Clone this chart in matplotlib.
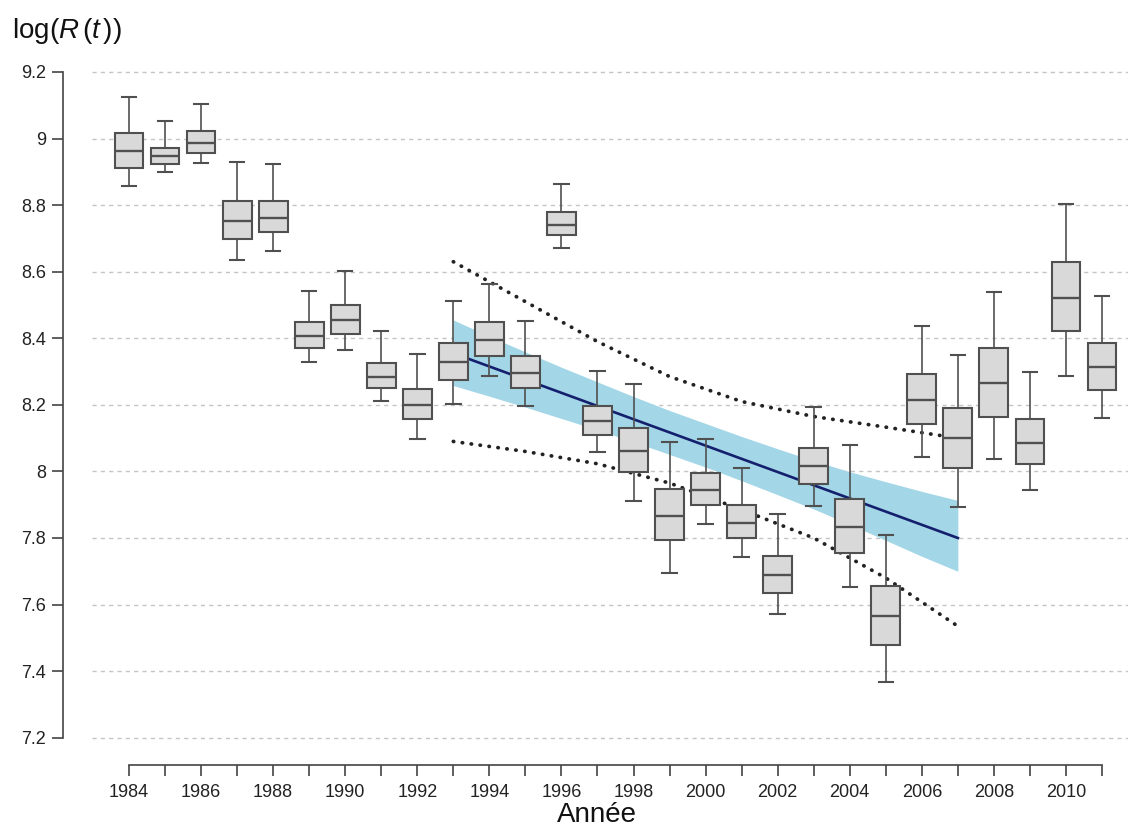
import matplotlib
matplotlib.use("Agg")
import matplotlib.pyplot as plt

plt.rcParams["font.family"] = ["Liberation Sans", "DejaVu Sans"]
plt.rcParams["mathtext.fontset"] = "custom"
plt.rcParams["mathtext.rm"] = "Liberation Sans"
plt.rcParams["mathtext.it"] = "Liberation Sans:italic"

# --- data ---
years = list(range(1984, 2012))
whis_lo = [8.857, 8.901, 8.927, 8.635, 8.663, 8.329, 8.366, 8.211, 8.098, 8.204,
           8.286, 8.198, 8.671, 8.057, 7.910, 7.696, 7.843, 7.742, 7.572, 7.897,
           7.652, 7.366, 8.043, 7.893, 8.037, 7.943, 8.288, 8.159]
q1 = [8.913, 8.925, 8.958, 8.699, 8.718, 8.370, 8.413, 8.250, 8.156, 8.275,
      8.346, 8.252, 8.710, 8.108, 7.999, 7.793, 7.899, 7.799, 7.635, 7.963,
      7.756, 7.480, 8.141, 8.009, 8.163, 8.023, 8.421, 8.246]
median = [8.963, 8.947, 8.987, 8.753, 8.761, 8.408, 8.455, 8.284, 8.199, 8.329,
          8.394, 8.296, 8.740, 8.150, 8.061, 7.866, 7.945, 7.845, 7.690, 8.015,
          7.832, 7.565, 8.216, 8.099, 8.266, 8.085, 8.521, 8.314]
q3 = [9.016, 8.973, 9.022, 8.811, 8.811, 8.450, 8.501, 8.325, 8.249, 8.387,
      8.450, 8.348, 8.780, 8.198, 8.129, 7.946, 7.995, 7.899, 7.747, 8.071,
      7.918, 7.655, 8.294, 8.192, 8.372, 8.157, 8.628, 8.387]
whis_hi = [9.126, 9.052, 9.104, 8.931, 8.924, 8.542, 8.602, 8.422, 8.354, 8.511,
           8.564, 8.452, 8.865, 8.303, 8.263, 8.088, 8.098, 8.011, 7.873, 8.193,
           8.079, 7.808, 8.438, 8.351, 8.539, 8.298, 8.804, 8.528]

# linear trend 1993-2007 with confidence band
trend_years = [1993, 2007]
trend_vals = [8.355, 7.800]
band_years = list(range(1993, 2008))
band_hi = [8.455, 8.406, 8.359, 8.313, 8.269, 8.225, 8.183, 8.144, 8.105, 8.068,
           8.032, 7.999, 7.969, 7.940, 7.913]
band_lo = [8.258, 8.226, 8.193, 8.159, 8.125, 8.089, 8.051, 8.013, 7.972, 7.930,
           7.887, 7.841, 7.793, 7.745, 7.700]

# prediction interval (dotted)
pred_years = [1993, 1995, 1997, 1999, 2001, 2003, 2005, 2007]
pred_hi = [8.63, 8.51, 8.39, 8.285, 8.21, 8.165, 8.133, 8.10]
pred_lo = [8.09, 8.06, 8.023, 7.965, 7.885, 7.80, 7.68, 7.535]

yticks = [7.2, 7.4, 7.6, 7.8, 8.0, 8.2, 8.4, 8.6, 8.8, 9.0, 9.2]
ytick_labels = ["7.2", "7.4", "7.6", "7.8", "8", "8.2", "8.4", "8.6", "8.8", "9", "9.2"]

# --- figure ---
W, H = 1128, 836
fig = plt.figure(figsize=(W / 100, H / 100), dpi=100)
ax = fig.add_axes([92 / W, 1 - 765 / H, 1 - 92 / W, (765 - 60) / H])

px_per_year = (1102 - 129) / 27
ax.set_xlim(1984 - (129 - 92) / px_per_year, 2011 + (W - 1102) / px_per_year)
px_per_unit = (737.7 - 72) / 2.0
ax.set_ylim(9.2 - (765 - 72) / px_per_unit, 9.2 + (72 - 60) / px_per_unit)

for v in yticks:
    ax.axhline(v, color="#c4c4c4", lw=1.0, ls=(0, (3, 3)), zorder=0)

ax.fill_between(band_years, band_lo, band_hi, color="#a3d6e6", lw=0, zorder=1)
ax.plot(trend_years, trend_vals, color="#14206e", lw=1.9, zorder=2)
for vals in (pred_hi, pred_lo):
    ax.plot(pred_years, vals, color="#222222", lw=2.7, ls=(0, (0.1, 2.3)),
            dash_capstyle="round", zorder=2)

stats = [dict(whislo=a, q1=b, med=c, q3=d, whishi=e)
         for a, b, c, d, e in zip(whis_lo, q1, median, q3, whis_hi)]
edge = "#505050"
ax.bxp(stats, positions=years, widths=0.8, showfliers=False, patch_artist=True,
       boxprops=dict(facecolor="#d9d9d9", edgecolor=edge, linewidth=1.5),
       medianprops=dict(color=edge, linewidth=1.7),
       whiskerprops=dict(color=edge, linewidth=1.2),
       capprops=dict(color=edge, linewidth=1.5), capwidths=0.4,
       manage_ticks=False, zorder=3)

# R style axes
for s in ["top", "right"]:
    ax.spines[s].set_visible(False)
ax.spines["left"].set_position(("outward", 21))
ax.spines["left"].set_bounds(7.2, 9.2)
ax.spines["bottom"].set_bounds(1984, 2011)
for s in ["left", "bottom"]:
    ax.spines[s].set_color("#444444")
    ax.spines[s].set_linewidth(1.2)

ax.set_yticks(yticks)
ax.set_yticklabels(ytick_labels)
ax.set_xticks(range(1984, 2012, 2))
ax.set_xticklabels([str(y) for y in range(1984, 2012, 2)])
ax.set_xticks(range(1985, 2012, 2), minor=True)
ax.tick_params(axis="both", which="both", length=8, width=1.2, color="#444444",
               labelsize=13, labelcolor="#222222")
ax.tick_params(axis="x", pad=6)
ax.tick_params(axis="y", pad=4)

fig.text(12 / W, 1 - 31 / H, r"$\mathrm{log(}\mathit{R}\,\mathrm{(}\mathit{t}\,\mathrm{))}$",
         fontsize=20, va="center", ha="left", color="#111111")
fig.text(597 / W, 1 - 815 / H, "Année", fontsize=20, ha="center", va="center",
         color="#111111")

fig.savefig("out.png", dpi=100)
